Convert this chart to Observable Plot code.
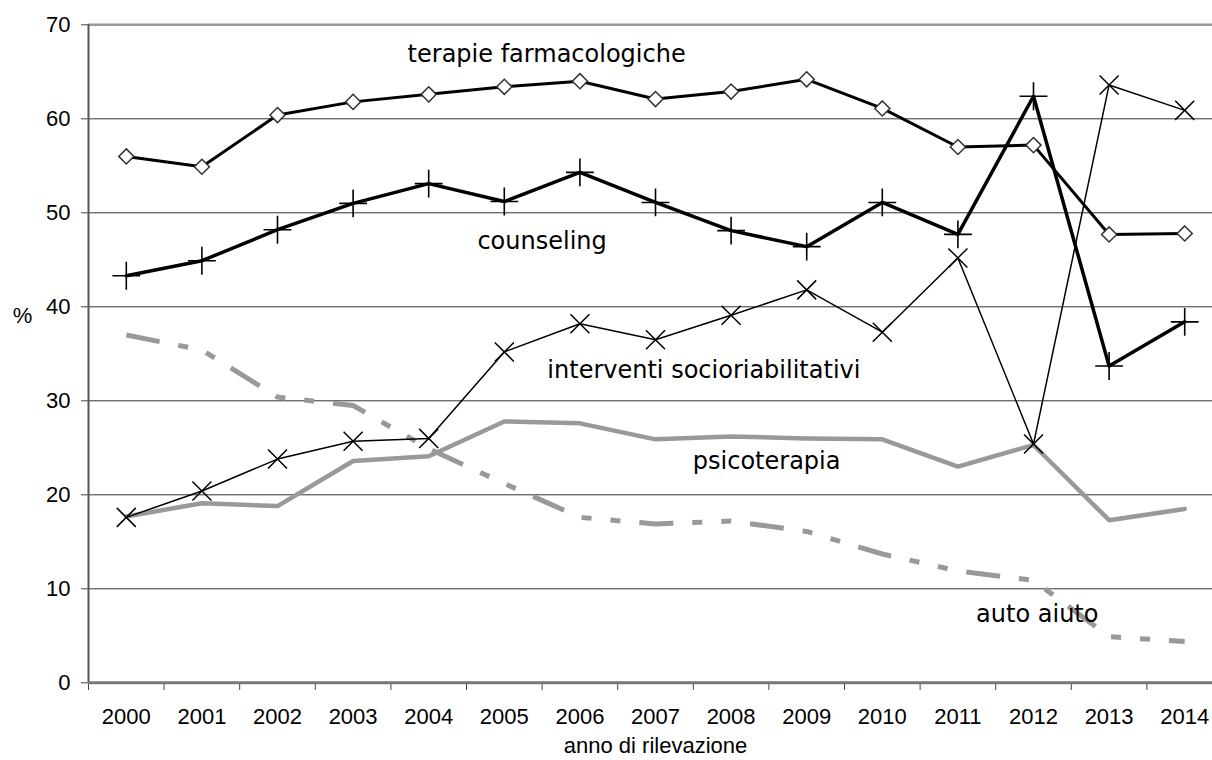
<!DOCTYPE html>
<html>
<head>
<meta charset="utf-8">
<script src="https://cdn.jsdelivr.net/npm/d3@7"></script>
<script src="https://cdn.jsdelivr.net/npm/@observablehq/plot@0.6"></script>
<style>
  html, body { margin: 0; padding: 0; background: #fff; }
</style>
</head>
<body>
<div id="chart"></div>
<script>
const years = [2000, 2001, 2002, 2003, 2004, 2005, 2006, 2007, 2008, 2009, 2010, 2011, 2012, 2013, 2014];
const terapie = [56.0, 54.9, 60.4, 61.8, 62.6, 63.4, 64.0, 62.1, 62.9, 64.2, 61.1, 57.0, 57.2, 47.7, 47.8];
const counseling = [43.3, 44.9, 48.2, 51.0, 53.1, 51.2, 54.3, 51.1, 48.1, 46.4, 51.1, 47.7, 62.4, 33.7, 38.4];
const socio = [17.6, 20.4, 23.8, 25.7, 26.0, 35.2, 38.2, 36.5, 39.1, 41.8, 37.3, 45.2, 25.4, 63.6, 60.9];
const psico = [17.7, 19.1, 18.8, 23.6, 24.1, 27.8, 27.6, 25.9, 26.2, 26.0, 25.9, 23.0, 25.3, 17.3, 18.5];
const autoAiuto = [37.0, 35.4, 30.4, 29.5, 24.9, 21.2, 17.6, 16.9, 17.2, 16.1, 13.7, 11.9, 10.9, 4.9, 4.4];

const yTicks = [0, 10, 20, 30, 40, 50, 60, 70];
const labelText = ["terapie farmacologiche", "counseling", "interventi socioriabilitativi", "psicoterapia", "auto aiuto"];
const labelX = [2005.56, 2005.5, 2007.64, 2008.47, 2012.05];
const labelY = [66.9, 47.0, 33.2, 23.6, 7.3];
const yAxisTitle = "%";
const xAxisTitle = "anno di rilevazione";

const rows = years.map((year, i) => ({
  year, terapie: terapie[i], counseling: counseling[i], socio: socio[i], psico: psico[i], auto: autoAiuto[i]
}));
const labels = labelText.map((text, i) => ({text, x: labelX[i], y: labelY[i]}));
const boundaries = years.map(y => y - 0.5).concat([years[years.length - 1] + 0.5]);
const grid = yTicks.filter(t => t > 0 && t < 70);

const chart = Plot.plot({
  width: 1212,
  height: 760,
  marginLeft: 88,
  marginRight: 0,
  marginTop: 24,
  marginBottom: 78,
  style: {fontFamily: "'Liberation Sans', Arial, sans-serif", fontSize: "22px", background: "#fff", color: "#000"},
  x: {type: "linear", domain: [boundaries[0], boundaries[boundaries.length - 1]], range: [88, 1222]},
  y: {domain: [0, 70], range: [682.3, 24.3]},
  marks: [
    Plot.ruleY(grid, {stroke: "#333", strokeWidth: 1}),
    Plot.ruleY([70], {stroke: "#999", strokeWidth: 2.5}),
    Plot.axisY({ticks: yTicks, tickSize: 7, tickPadding: 11, fontSize: 22, stroke: "#444", label: null}),
    Plot.axisX({ticks: boundaries, tickSize: 8, tickFormat: () => "", stroke: "#444", label: null}),
    Plot.axisX({ticks: years, tickSize: 0, tickPadding: 26, tickFormat: d => String(d), fontSize: 22, label: null}),
    Plot.line(rows, {x: "year", y: "psico", stroke: "#999", strokeWidth: 4.5}),
    Plot.line(rows, {x: "year", y: "auto", stroke: "#999", strokeWidth: 5, strokeDasharray: "34,19,10,19,10,19", strokeLinecap: "butt"}),
    Plot.line(rows, {x: "year", y: "terapie", stroke: "#000", strokeWidth: 3}),
    Plot.line(rows, {x: "year", y: "counseling", stroke: "#000", strokeWidth: 3.5}),
    Plot.line(rows, {x: "year", y: "socio", stroke: "#000", strokeWidth: 1.5}),
    Plot.dot(rows, {x: "year", y: "terapie", symbol: "diamond2", r: 6.8, fill: "#fff", stroke: "#333", strokeWidth: 1.5}),
    Plot.dot(rows, {x: "year", y: "counseling", symbol: "plus", r: 9, stroke: "#000", strokeWidth: 1.6}),
    Plot.dot(rows, {x: "year", y: "socio", symbol: "times", r: 8.7, stroke: "#000", strokeWidth: 1.5}),
    Plot.ruleX([boundaries[0]], {stroke: "#555", strokeWidth: 2}),
    Plot.ruleY([0], {stroke: "#777", strokeWidth: 3}),
    Plot.text(labels, {x: "x", y: "y", text: "text", fontFamily: "'DejaVu Sans', sans-serif", fontSize: 24, fill: "#000", lineAnchor: "middle"}),
    Plot.text([yAxisTitle], {frameAnchor: "left", y: [39], dx: -66, fontSize: 22, textAnchor: "middle"}),
    Plot.text([xAxisTitle], {frameAnchor: "bottom", x: [(years[0] + years[years.length - 1]) / 2], dy: 70.7, fontSize: 22, textAnchor: "middle"})
  ]
});
document.getElementById("chart").appendChild(chart);
</script>
</body>
</html>
